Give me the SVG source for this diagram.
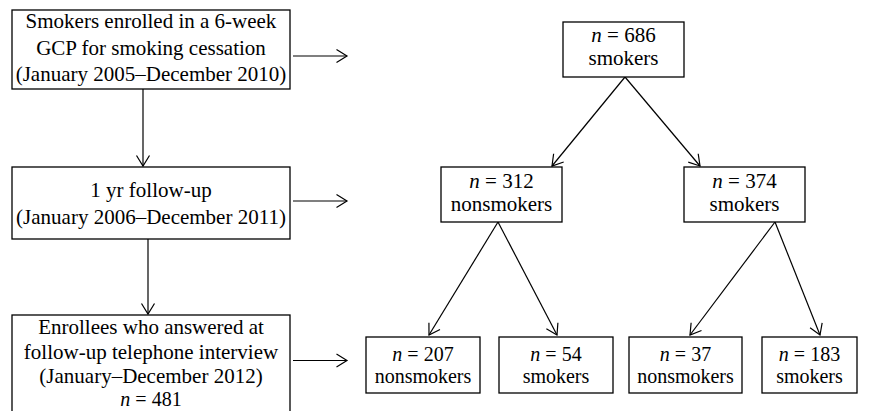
<svg xmlns="http://www.w3.org/2000/svg" width="893" height="411" viewBox="0 0 893 411">
<style>
.box{fill:#fff;stroke:#000;stroke-width:1.3}
.t{font-family:"Liberation Serif","Times New Roman",serif;font-size:21px;fill:#000;text-anchor:middle}
.s{font-size:20px}
.i{font-style:italic}
.c{stroke:#000;stroke-width:1.2;fill:none}
</style>
<defs>
<marker id="ah" markerUnits="userSpaceOnUse" markerWidth="14" markerHeight="16" viewBox="0 0 14 16" refX="12" refY="8" orient="auto">
<path d="M1.5,1.5 L12,8 L1.5,14.5" fill="none" stroke="#000" stroke-width="1.2"/>
</marker>
</defs>
<rect width="893" height="411" fill="#fff"/>
<g id="connectors">
<line class="c" x1="143" y1="89" x2="143" y2="166" marker-end="url(#ah)"/>
<line class="c" x1="148" y1="239" x2="148" y2="314" marker-end="url(#ah)"/>
<line class="c" x1="293" y1="56" x2="347" y2="56" marker-end="url(#ah)"/>
<line class="c" x1="293" y1="201" x2="347" y2="201" marker-end="url(#ah)"/>
<line class="c" x1="293" y1="360.5" x2="347" y2="360.5" marker-end="url(#ah)"/>
<line class="c" x1="625" y1="77" x2="552" y2="166" marker-end="url(#ah)"/>
<line class="c" x1="625" y1="77" x2="700" y2="166" marker-end="url(#ah)"/>
<line class="c" x1="498" y1="222" x2="429" y2="335" marker-end="url(#ah)"/>
<line class="c" x1="498" y1="222" x2="557" y2="335" marker-end="url(#ah)"/>
<line class="c" x1="775" y1="222" x2="690" y2="335" marker-end="url(#ah)"/>
<line class="c" x1="775" y1="222" x2="820" y2="335" marker-end="url(#ah)"/>
</g>
<g id="n-enrolled">
<rect class="box" x="12" y="10" width="278" height="79"/>
<text class="t" x="151" y="28">Smokers enrolled in a 6-week</text>
<text class="t" x="151" y="55">GCP for smoking cessation</text>
<text class="t" x="151" y="81">(January 2005–December 2010)</text>
</g>
<g id="n-followup">
<rect class="box" x="12" y="167" width="278" height="72"/>
<text class="t" x="151" y="197">1 yr follow-up</text>
<text class="t" x="151" y="224">(January 2006–December 2011)</text>
</g>
<g id="n-answered">
<rect class="box" x="12" y="315" width="278" height="100"/>
<text class="t" x="151" y="334">Enrollees who answered at</text>
<text class="t" x="151" y="359">follow-up telephone interview</text>
<text class="t" x="151" y="383">(January–December 2012)</text>
<text class="t s" x="151" y="406"><tspan class="i">n</tspan> = 481</text>
</g>
<g id="n-686">
<rect class="box" x="563" y="22" width="121" height="55"/>
<text class="t" x="623.5" y="42"><tspan class="i">n</tspan> = 686</text>
<text class="t" x="623.5" y="65">smokers</text>
</g>
<g id="n-312">
<rect class="box" x="441" y="167" width="121" height="55"/>
<text class="t" x="501.5" y="188"><tspan class="i">n</tspan> = 312</text>
<text class="t" x="501.5" y="211">nonsmokers</text>
</g>
<g id="n-374">
<rect class="box" x="684" y="167" width="121" height="55"/>
<text class="t" x="744.5" y="188"><tspan class="i">n</tspan> = 374</text>
<text class="t" x="744.5" y="211">smokers</text>
</g>
<g id="n-207">
<rect class="box" x="366" y="337" width="114" height="56"/>
<text class="t s" x="423" y="361"><tspan class="i">n</tspan> = 207</text>
<text class="t s" x="423" y="383">nonsmokers</text>
</g>
<g id="n-54">
<rect class="box" x="499" y="337" width="114" height="56"/>
<text class="t s" x="556" y="361"><tspan class="i">n</tspan> = 54</text>
<text class="t s" x="556" y="383">smokers</text>
</g>
<g id="n-37">
<rect class="box" x="629" y="337" width="113" height="56"/>
<text class="t s" x="685.5" y="361"><tspan class="i">n</tspan> = 37</text>
<text class="t s" x="685.5" y="383">nonsmokers</text>
</g>
<g id="n-183">
<rect class="box" x="762" y="337" width="95" height="56"/>
<text class="t s" x="809.5" y="361"><tspan class="i">n</tspan> = 183</text>
<text class="t s" x="809.5" y="383">smokers</text>
</g>
</svg>
